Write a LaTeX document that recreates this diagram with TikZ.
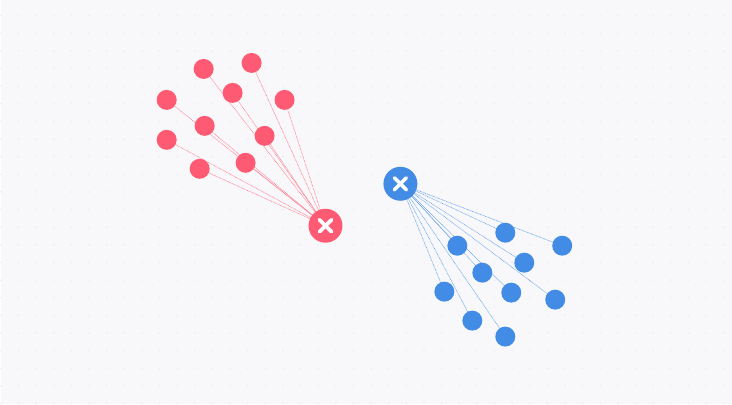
\documentclass[tikz,border=0pt]{standalone}
\usepackage{tikz}
\usetikzlibrary{backgrounds}
\definecolor{hitred}{HTML}{FF5A73}
\definecolor{hitblue}{HTML}{428CE6}
\definecolor{paper}{HTML}{F8F8FA}
\definecolor{griddot}{HTML}{ECECF0}

\begin{document}
\begin{tikzpicture}[x=1pt, y=-1pt,
    sample/.style={circle, fill=#1, inner sep=0pt, minimum size=20pt},
    hub/.style={circle, fill=#1, inner sep=0pt, minimum size=34pt},
    ray/.style={#1!85, line width=0.6pt, dash pattern=on 0.7pt off 0.7pt},
    cross/.style={white, line width=3.6pt, line cap=round}]
    % paper and dot grid
    \begin{scope}[on background layer]
        \fill[paper] (0,0) rectangle (732,404);
        \foreach \gx in {0,...,41}
            \foreach \gy in {0,...,22}
                \fill[griddot] (\gx*17.65, 15.7+\gy*17.65) circle (0.9);
    \end{scope}
    % red cluster
    \node[hub=hitred] (rx) at (325,226) {};
    \foreach \i/\x/\y in {1/203/69, 2/251/63, 3/166/100, 4/232/93, 5/284/100,
                          6/204/126, 7/264/136, 8/166/140, 9/245/163, 10/199/169}
        \node[sample=hitred] (r\i) at (\x,\y) {};
    % blue cluster
    \node[hub=hitblue] (bx) at (400,184) {};
    \foreach \i/\x/\y in {1/505/233, 2/562/246, 3/457/246, 4/524/263, 5/482/273,
                          6/511/293, 7/555/300, 8/444/292, 9/472/321, 10/505/337}
        \node[sample=hitblue] (b\i) at (\x,\y) {};
    % rays under the dots
    \begin{scope}[on background layer]
        \foreach \i in {1,...,10} {
            \draw[ray=hitred] (rx.center) -- (r\i.center);
            \draw[ray=hitblue] (bx.center) -- (b\i.center);
        }
    \end{scope}
    % crosses on the hubs
    \foreach \h in {rx,bx} {
        \draw[cross] ([shift={(-6,-6)}]\h.center) -- ([shift={(6,6)}]\h.center);
        \draw[cross] ([shift={(-6,6)}]\h.center) -- ([shift={(6,-6)}]\h.center);
    }
\end{tikzpicture}
\end{document}
